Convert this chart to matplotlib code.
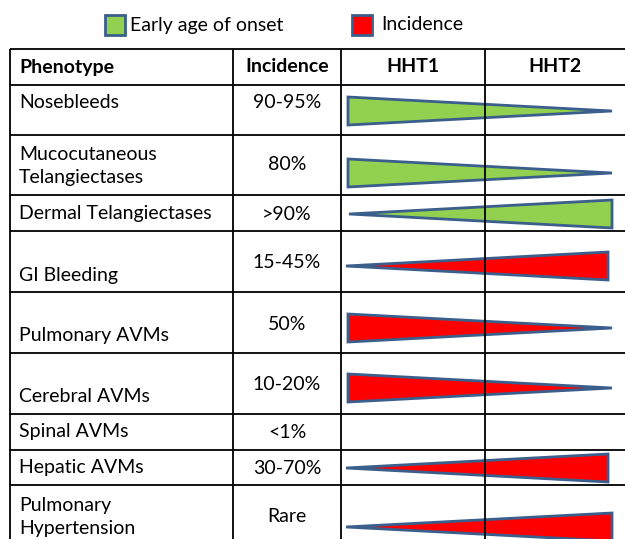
import matplotlib
matplotlib.use("Agg")
import matplotlib.pyplot as plt
from matplotlib.patches import Polygon, Rectangle

plt.rcParams['font.family'] = ['Lato', 'DejaVu Sans']

# table content
headers = ["Phenotype", "Incidence", "HHT1", "HHT2"]
phenotypes = ["Nosebleeds", "Mucocutaneous\nTelangiectases", "Dermal Telangiectases",
              "GI Bleeding", "Pulmonary AVMs", "Cerebral AVMs", "Spinal AVMs",
              "Hepatic AVMs", "Pulmonary\nHypertension"]
incidence = ["90-95%", "80%", ">90%", "15-45%", "50%", "10-20%", "<1%", "30-70%", "Rare"]
# which legend item the wedge shows (None = no wedge)
wedge_kind = ["onset", "onset", "onset", "incidence", "incidence", "incidence", None,
              "incidence", "incidence"]
# side of the wedge that is wide
wedge_wide = ["HHT1", "HHT1", "HHT2", "HHT2", "HHT1", "HHT1", None, "HHT2", "HHT2"]

colors = {"onset": "#92D050", "incidence": "#FF0000"}
edge = "#3A5F8C"

# layout (pixels)
col_x = [10, 233, 341, 485, 640]
row_y = [49, 85, 135, 195, 231, 292, 353, 414, 450, 485, 560]
name_y = [103, 166, 213, 275, 336, 397, 432, 467, 517]
inc_y = [103, 165, 214, 263, 325, 385, 432, 468, 516]
tri_y = [111, 173, 214, 266, 328, 388, None, 468, 527]

fig = plt.figure(figsize=(6.25, 5.39), dpi=100)
ax = fig.add_axes([0, 0, 1, 1])
ax.set_xlim(0, 625)
ax.set_ylim(539, 0)
ax.axis("off")

# grid lines
for y in row_y[:-1]:
    ax.plot([col_x[0], col_x[-1]], [y, y], color="black", lw=1.3, solid_capstyle="butt")
for x in col_x[:-1]:
    ax.plot([x, x], [row_y[0], row_y[-1]], color="black", lw=1.3, solid_capstyle="butt")

fs = 14
# header
hy = (row_y[0] + row_y[1]) / 2
ax.text(col_x[0] + 9, hy, headers[0], ha="left", va="center", fontsize=fs, fontweight="bold")
for i in range(1, 4):
    ax.text((col_x[i] + min(col_x[i + 1], 625)) / 2, hy, headers[i], ha="center", va="center",
            fontsize=fs, fontweight="bold")

for i, name in enumerate(phenotypes):
    ax.text(col_x[0] + 9, name_y[i], name, ha="left", va="center", fontsize=fs, linespacing=1.45)
    ax.text((col_x[1] + col_x[2]) / 2, inc_y[i], incidence[i], ha="center", va="center", fontsize=fs)

    kind = wedge_kind[i]
    if kind is None:
        continue
    cy = tri_y[i]
    if wedge_wide[i] == "HHT1":
        pts = [(348, cy - 14), (348, cy + 14), (612, cy)]
    else:
        x_tip = 346 if kind == "incidence" else 349
        x_wide = 608 if kind == "incidence" and i != 8 else 612
        pts = [(x_tip, cy), (x_wide, cy + 14), (x_wide, cy - 14)]
    ax.add_patch(Polygon(pts, closed=True, facecolor=colors[kind], edgecolor=edge,
                         lw=2, joinstyle="miter"))

# legend
ax.add_patch(Rectangle((105, 15), 20, 20, facecolor=colors["onset"], edgecolor=edge, lw=2))
ax.text(130, 25, "Early age of onset", ha="left", va="center", fontsize=fs)
ax.add_patch(Rectangle((352, 15), 20, 20, facecolor=colors["incidence"], edgecolor=edge, lw=2))
ax.text(381, 25, "Incidence", ha="left", va="center", fontsize=fs)

fig.savefig("out.png", dpi=100)
